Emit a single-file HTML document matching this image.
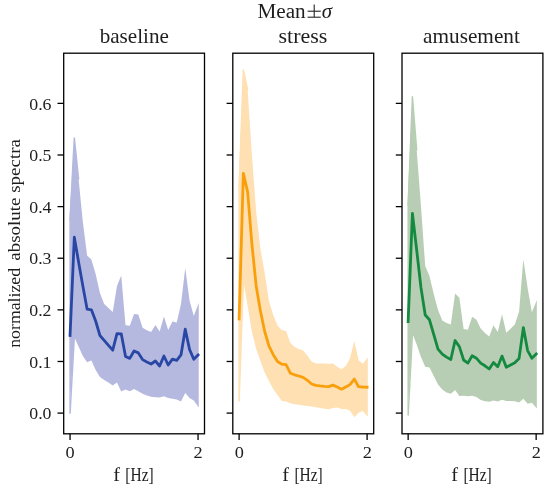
<!DOCTYPE html>
<html><head><meta charset="utf-8"><style>
html,body{margin:0;padding:0;background:#fff;}
svg{display:block;will-change:transform;}
text{font-family:"Liberation Serif",serif;fill:#1e1e1e;}
</style></head><body>
<svg width="550" height="490" viewBox="0 0 550 490">
<rect width="550" height="490" fill="#fff"/>
<polygon points="69.35,220 74.32,137.9 78.58,179 82.85,222 87.12,255.5 91.38,259.6 95.65,274 99.92,293 104.18,304 108.45,308 112.72,312 116.98,286 121.25,275.4 125.52,325.2 129.78,325.8 134.05,314 138.32,314.6 142.58,327.8 146.85,330.2 151.12,332 155.38,325 159.65,331.5 163.92,316.5 168.18,330 172.45,321.5 176.72,322.5 180.98,304 185.25,268 189.52,300.4 193.78,316 198.75,302.9 198.75,407.5 193.78,400.5 189.52,398.1 185.25,392.9 180.98,401.5 176.72,399.5 172.45,398.8 168.18,398.1 163.92,396.2 159.65,397.6 155.38,397.2 151.12,396.7 146.85,395.6 142.58,393.8 138.32,391.3 134.05,388.9 129.78,391.3 125.52,389.5 121.25,391.5 116.98,382.5 112.72,385.6 108.45,382.5 104.18,380.1 99.92,377 95.65,370 91.38,360.5 87.12,362.3 82.85,356 78.58,346.5 74.32,337 69.35,413.2" fill="#b6b9df"/>
<polyline points="70.05,413.2 74.32,337" fill="none" stroke="#b6b9df" stroke-width="1.5" stroke-linecap="round" stroke-linejoin="round"/>
<polyline points="70.05,220 74.32,137.9 78.58,179" fill="none" stroke="#b6b9df" stroke-width="1.5" stroke-linecap="round" stroke-linejoin="round"/>
<polyline points="70.05,335.5 74.32,237.2 78.58,262 82.85,286 87.12,309.2 91.38,309.8 95.65,321 99.92,335.5 104.18,340.4 108.45,345.3 112.72,350.2 116.98,333.7 121.25,333.8 125.52,356.5 129.78,358.4 134.05,351 138.32,352.9 142.58,359.6 146.85,362 151.12,364 155.38,361 159.65,366 163.92,356 168.18,365 172.45,359.1 176.72,360.3 180.98,354.9 185.25,329.2 189.52,349.4 193.78,359.2 198.05,354.9" fill="none" stroke="#2846a4" stroke-width="2.8" stroke-linejoin="round" stroke-linecap="square"/>
<rect x="63.7" y="53.2" width="140.8" height="380.6" fill="none" stroke="#000" stroke-width="1.3" stroke-linejoin="miter"/>
<line x1="57.5" y1="413.1" x2="63.7" y2="413.1" stroke="#000" stroke-width="1.3"/>
<line x1="57.5" y1="361.48" x2="63.7" y2="361.48" stroke="#000" stroke-width="1.3"/>
<line x1="57.5" y1="309.86" x2="63.7" y2="309.86" stroke="#000" stroke-width="1.3"/>
<line x1="57.5" y1="258.24" x2="63.7" y2="258.24" stroke="#000" stroke-width="1.3"/>
<line x1="57.5" y1="206.62" x2="63.7" y2="206.62" stroke="#000" stroke-width="1.3"/>
<line x1="57.5" y1="155" x2="63.7" y2="155" stroke="#000" stroke-width="1.3"/>
<line x1="57.5" y1="103.38" x2="63.7" y2="103.38" stroke="#000" stroke-width="1.3"/>
<line x1="70.05" y1="433.8" x2="70.05" y2="440" stroke="#000" stroke-width="1.3"/>
<line x1="198.05" y1="433.8" x2="198.05" y2="440" stroke="#000" stroke-width="1.3"/>
<polygon points="238.4,188 243.37,69.9 247.63,90 251.9,155 256.17,212 260.43,249 264.7,273 268.97,301 273.23,315 277.5,325.4 281.77,330 286.03,331 290.3,342.8 294.57,347 298.83,349 303.1,350.6 307.37,355.5 311.63,361.6 315.9,363.5 320.17,363.5 324.43,363.5 328.7,363.7 332.97,363.6 337.23,366.7 341.5,369.2 345.77,366.1 350.03,358.2 354.3,341 358.57,360.3 362.83,363.7 367.8,357.5 367.8,416.8 362.83,410.9 358.57,412.8 354.3,417.3 350.03,410.7 345.77,409.1 341.5,409.1 337.23,407.5 332.97,408 328.7,409.2 324.43,408.8 320.17,408 315.9,407.2 311.63,406.5 307.37,406 303.1,405.5 298.83,404.8 294.57,404.2 290.3,403.3 286.03,401.6 281.77,400.9 277.5,395 273.23,389 268.97,381 264.7,372.5 260.43,361 256.17,349 251.9,332 247.63,306 243.37,281 238.4,400.9" fill="#fee0b3"/>
<polyline points="239.1,400.9 243.37,281" fill="none" stroke="#fee0b3" stroke-width="1.5" stroke-linecap="round" stroke-linejoin="round"/>
<polyline points="239.1,188 243.37,69.9 247.63,90" fill="none" stroke="#fee0b3" stroke-width="1.5" stroke-linecap="round" stroke-linejoin="round"/>
<polyline points="239.1,319 243.37,173.3 247.63,192 251.9,244 256.17,286 260.43,311 264.7,331.5 268.97,346 273.23,354.7 277.5,361.5 281.77,364.2 286.03,364.6 290.3,373.2 294.57,374.8 298.83,376 303.1,377.4 307.37,380.3 311.63,384 315.9,385.3 320.17,385.9 324.43,386.3 328.7,386.6 332.97,385.1 337.23,387 341.5,389.2 345.77,387 350.03,384.6 354.3,379.1 358.57,386.7 362.83,387 367.1,387.2" fill="none" stroke="#fa9f0c" stroke-width="2.8" stroke-linejoin="round" stroke-linecap="square"/>
<rect x="232.8" y="53.2" width="140.9" height="380.6" fill="none" stroke="#000" stroke-width="1.3" stroke-linejoin="miter"/>
<line x1="226.6" y1="413.1" x2="232.8" y2="413.1" stroke="#000" stroke-width="1.3"/>
<line x1="226.6" y1="361.48" x2="232.8" y2="361.48" stroke="#000" stroke-width="1.3"/>
<line x1="226.6" y1="309.86" x2="232.8" y2="309.86" stroke="#000" stroke-width="1.3"/>
<line x1="226.6" y1="258.24" x2="232.8" y2="258.24" stroke="#000" stroke-width="1.3"/>
<line x1="226.6" y1="206.62" x2="232.8" y2="206.62" stroke="#000" stroke-width="1.3"/>
<line x1="226.6" y1="155" x2="232.8" y2="155" stroke="#000" stroke-width="1.3"/>
<line x1="226.6" y1="103.38" x2="232.8" y2="103.38" stroke="#000" stroke-width="1.3"/>
<line x1="239.1" y1="433.8" x2="239.1" y2="440" stroke="#000" stroke-width="1.3"/>
<line x1="367.1" y1="433.8" x2="367.1" y2="440" stroke="#000" stroke-width="1.3"/>
<polygon points="407.45,205 412.42,96.8 416.68,150 420.95,206 425.22,266 429.48,276 433.75,294 438.02,310 442.28,320.5 446.55,323 450.82,324.5 455.08,293.5 459.35,297.8 463.62,329 467.88,329.8 472.15,316.7 476.42,319.8 480.68,328.5 484.95,333 489.22,336.5 493.48,325.2 497.75,332 502.02,314.2 506.28,332.8 510.55,328.8 514.82,324.5 519.08,311.8 523.35,259.2 527.62,288 531.88,312.2 536.85,300.1 536.85,408.6 531.88,402.8 527.62,403.7 523.35,398.8 519.08,402.4 514.82,401.2 510.55,400.9 506.28,400.9 502.02,399.7 497.75,401.4 493.48,400.6 489.22,401.7 484.95,401.2 480.68,400 476.42,396.9 472.15,395.7 467.88,396.3 463.62,395.7 459.35,395.9 455.08,390.1 450.82,393.8 446.55,392.4 442.28,389.4 438.02,384.5 433.75,375.9 429.48,367.5 425.22,366.7 420.95,357 416.68,344.5 412.42,333.5 407.45,415.1" fill="#b8ceb4"/>
<polyline points="408.15,415.1 412.42,333.5" fill="none" stroke="#b8ceb4" stroke-width="1.5" stroke-linecap="round" stroke-linejoin="round"/>
<polyline points="408.15,205 412.42,96.8 416.68,150" fill="none" stroke="#b8ceb4" stroke-width="1.5" stroke-linecap="round" stroke-linejoin="round"/>
<polyline points="408.15,321.6 412.42,213.5 416.68,250 420.95,287.5 425.22,315 429.48,319.8 433.75,334.5 438.02,349.2 442.28,354.1 446.55,357.1 450.82,359.5 455.08,340.5 459.35,346.6 463.62,360 467.88,363.1 472.15,355.7 476.42,358.2 480.68,363.1 484.95,365.8 489.22,369 493.48,362.5 497.75,366.8 502.02,356.1 506.28,367.2 510.55,365 514.82,362.7 519.08,358.4 523.35,327.6 527.62,350.6 531.88,358.2 536.15,354" fill="none" stroke="#138a40" stroke-width="2.8" stroke-linejoin="round" stroke-linecap="square"/>
<rect x="402" y="53.2" width="140.9" height="380.6" fill="none" stroke="#000" stroke-width="1.3" stroke-linejoin="miter"/>
<line x1="395.8" y1="413.1" x2="402" y2="413.1" stroke="#000" stroke-width="1.3"/>
<line x1="395.8" y1="361.48" x2="402" y2="361.48" stroke="#000" stroke-width="1.3"/>
<line x1="395.8" y1="309.86" x2="402" y2="309.86" stroke="#000" stroke-width="1.3"/>
<line x1="395.8" y1="258.24" x2="402" y2="258.24" stroke="#000" stroke-width="1.3"/>
<line x1="395.8" y1="206.62" x2="402" y2="206.62" stroke="#000" stroke-width="1.3"/>
<line x1="395.8" y1="155" x2="402" y2="155" stroke="#000" stroke-width="1.3"/>
<line x1="395.8" y1="103.38" x2="402" y2="103.38" stroke="#000" stroke-width="1.3"/>
<line x1="408.15" y1="433.8" x2="408.15" y2="440" stroke="#000" stroke-width="1.3"/>
<line x1="536.15" y1="433.8" x2="536.15" y2="440" stroke="#000" stroke-width="1.3"/>
<text x="281.58" y="17.5" font-size="20.0" text-anchor="middle" textLength="48.248" lengthAdjust="spacingAndGlyphs">Mean</text>
<text x="327.0" y="17.9" font-size="20.0" text-anchor="middle" textLength="10.3" lengthAdjust="spacingAndGlyphs"><tspan font-style="italic">σ</tspan></text>
<text x="134.28" y="42.6" font-size="20.6" text-anchor="middle" textLength="69.25" lengthAdjust="spacingAndGlyphs">baseline</text>
<text x="302.99" y="42.6" font-size="20.6" text-anchor="middle" textLength="48.853" lengthAdjust="spacingAndGlyphs">stress</text>
<text x="471.47" y="42.6" font-size="20.6" text-anchor="middle" textLength="96.849" lengthAdjust="spacingAndGlyphs">amusement</text>
<text x="51.51" y="419.22" font-size="17.5" text-anchor="end" textLength="22.267" lengthAdjust="spacingAndGlyphs">0.0</text>
<text x="51.51" y="367.6" font-size="17.5" text-anchor="end" textLength="22.267" lengthAdjust="spacingAndGlyphs">0.1</text>
<text x="51.51" y="315.98" font-size="17.5" text-anchor="end" textLength="22.267" lengthAdjust="spacingAndGlyphs">0.2</text>
<text x="51.51" y="264.36" font-size="17.5" text-anchor="end" textLength="22.267" lengthAdjust="spacingAndGlyphs">0.3</text>
<text x="51.51" y="212.74" font-size="17.5" text-anchor="end" textLength="22.267" lengthAdjust="spacingAndGlyphs">0.4</text>
<text x="51.51" y="161.12" font-size="17.5" text-anchor="end" textLength="22.267" lengthAdjust="spacingAndGlyphs">0.5</text>
<text x="51.51" y="109.5" font-size="17.5" text-anchor="end" textLength="22.267" lengthAdjust="spacingAndGlyphs">0.6</text>
<text x="70.18" y="457.68" font-size="17.5" text-anchor="middle" textLength="9.15" lengthAdjust="spacingAndGlyphs">0</text>
<text x="198.18" y="457.68" font-size="17.5" text-anchor="middle" textLength="9.15" lengthAdjust="spacingAndGlyphs">2</text>
<text x="239.23" y="457.68" font-size="17.5" text-anchor="middle" textLength="9.15" lengthAdjust="spacingAndGlyphs">0</text>
<text x="367.23" y="457.68" font-size="17.5" text-anchor="middle" textLength="9.15" lengthAdjust="spacingAndGlyphs">2</text>
<text x="408.28" y="457.68" font-size="17.5" text-anchor="middle" textLength="9.15" lengthAdjust="spacingAndGlyphs">0</text>
<text x="536.28" y="457.68" font-size="17.5" text-anchor="middle" textLength="9.15" lengthAdjust="spacingAndGlyphs">2</text>
<text x="116.62" y="480.7" font-size="17.8" text-anchor="middle" textLength="6.756" lengthAdjust="spacingAndGlyphs">f</text>
<text x="285.67" y="480.7" font-size="17.8" text-anchor="middle" textLength="6.756" lengthAdjust="spacingAndGlyphs">f</text>
<text x="454.72" y="480.7" font-size="17.8" text-anchor="middle" textLength="6.756" lengthAdjust="spacingAndGlyphs">f</text>
<text x="139.5" y="480.7" font-size="17.8" text-anchor="middle" textLength="28.341" lengthAdjust="spacingAndGlyphs">[Hz]</text>
<text x="308.55" y="480.7" font-size="17.8" text-anchor="middle" textLength="28.341" lengthAdjust="spacingAndGlyphs">[Hz]</text>
<text x="477.6" y="480.7" font-size="17.8" text-anchor="middle" textLength="28.341" lengthAdjust="spacingAndGlyphs">[Hz]</text>
<text x="0" y="0" font-size="17.0" text-anchor="middle" transform="translate(19.8,307.85) rotate(-90)" textLength="79.866" lengthAdjust="spacingAndGlyphs">normalized</text>
<text x="0" y="0" font-size="17.0" text-anchor="middle" transform="translate(19.8,199.94) rotate(-90)" textLength="121.653" lengthAdjust="spacingAndGlyphs">absolute spectra</text>
<g stroke="#1a1a1a" stroke-width="1.05" fill="none"><line x1="314.2" y1="4.6" x2="314.2" y2="17.0"/><line x1="307.6" y1="11.2" x2="320.8" y2="11.2"/><line x1="307.6" y1="17.2" x2="320.8" y2="17.2"/></g>
</svg>
</body></html>
